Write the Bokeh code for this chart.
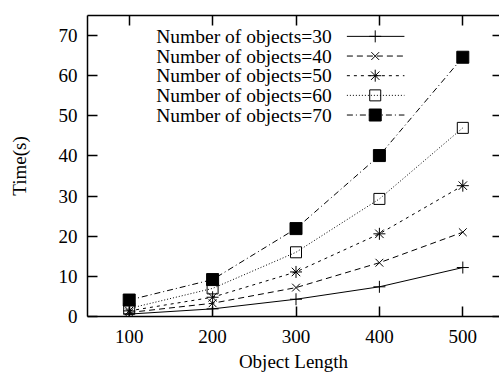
from bokeh.plotting import figure
from bokeh.models import LinearAxis, FixedTicker, Range1d
from bokeh.core.properties import value
from bokeh.embed import file_html
from bokeh.resources import INLINE

# Object length on the x axis
lengths = [100, 200, 300, 400, 500]

# Run time in seconds for each number of objects
t30 = [0.6, 1.9, 4.3, 7.4, 12.2]
t40 = [1.0, 3.3, 7.2, 13.4, 21.0]
t50 = [1.4, 4.8, 11.1, 20.6, 32.6]
t60 = [2.0, 7.0, 16.0, 29.3, 47.0]
t70 = [4.1, 9.2, 21.9, 40.1, 64.6]

series_labels = ["Number of objects=30", "Number of objects=40",
                 "Number of objects=50", "Number of objects=60",
                 "Number of objects=70"]

x_ticks = [100, 200, 300, 400, 500]
y_ticks = [0, 10, 20, 30, 40, 50, 60, 70]

FONT = value("Liberation Serif")
FONT_NAME = "Liberation Serif"
FS = "19px"
KEY_FS = "19.5px"

p = figure(width=499, height=374, output_backend="svg", toolbar_location=None,
           x_range=Range1d(50, 544), y_range=Range1d(0, 75),
           x_axis_label="Object Length", y_axis_label="Time(s)",
           min_border_left=87, min_border_right=0, min_border_top=15,
           min_border_bottom=0)
p.outline_line_color = None
p.grid.visible = False
p.background_fill_color = "white"
p.border_fill_color = "white"

def style_axis(ax):
    ax.axis_line_width = 1.5
    ax.axis_line_color = "black"
    ax.major_tick_in = 10
    ax.major_tick_out = 0
    ax.minor_tick_line_color = None
    ax.major_tick_line_width = 1.5
    ax.major_tick_line_color = "black"
    ax.major_label_text_font = FONT_NAME
    ax.major_label_text_font_size = FS
    ax.major_label_text_color = "black"
    ax.axis_label_text_font = FONT_NAME
    ax.axis_label_text_font_size = FS
    ax.axis_label_text_font_style = "normal"
    ax.axis_label_text_color = "black"

xa = p.xaxis[0]
ya = p.yaxis[0]
xa.ticker = FixedTicker(ticks=x_ticks)
ya.ticker = FixedTicker(ticks=y_ticks)
style_axis(xa)
style_axis(ya)
xa.major_label_standoff = 13
xa.axis_label_standoff = 5
ya.major_label_standoff = 10
ya.axis_label_standoff = 26

# Mirrored ticks on the top and right edges, without numbers
top = LinearAxis(ticker=FixedTicker(ticks=x_ticks))
style_axis(top)
top.major_label_overrides = {t: "" for t in x_ticks}
top.major_label_standoff = 0
p.add_layout(top, "above")

right = LinearAxis(ticker=FixedTicker(ticks=y_ticks))
style_axis(right)
right.major_label_overrides = {t: "" for t in y_ticks}
right.axis_line_color = None
right.major_tick_in = 7
right.major_label_standoff = 0
p.add_layout(right, "right")

series = [
    (t30, "solid", "cross", 12, "black"),
    (t40, "6 4", "x", 11, "black"),
    (t50, "3 4", "asterisk", 12, "black"),
    (t60, "1 2", "square", 11, None),
    (t70, "6 3 1 3", "square", 12, "black"),
]

# Key: right-aligned labels, then a line sample with its marker
key_text_x = 343
key_line_x0, key_line_x1, key_mark_x = 361, 430, 395
key_rows = [69.8, 64.9, 60.0, 55.1, 50.2]

for (vals, dash, marker, size, fill), label, ky in zip(series, series_labels, key_rows):
    p.line(lengths, vals, line_color="black", line_width=1, line_dash=dash)
    p.scatter(lengths, vals, marker=marker, size=size, line_color="black",
              line_width=1, fill_color=fill if fill else "white",
              fill_alpha=1.0 if fill else 0.0)
    p.text(x=[key_text_x], y=[ky], text=[label], text_font=FONT,
           text_font_size=KEY_FS, text_align="right", text_baseline="middle",
           text_color="black")
    p.segment(x0=[key_line_x0], y0=[ky], x1=[key_line_x1], y1=[ky],
              line_color="black", line_width=1, line_dash=dash)
    p.scatter([key_mark_x], [ky], marker=marker, size=size, line_color="black",
              line_width=1, fill_color=fill if fill else "white",
              fill_alpha=1.0 if fill else 0.0)

open("out.html", "w").write(file_html(p, INLINE))
